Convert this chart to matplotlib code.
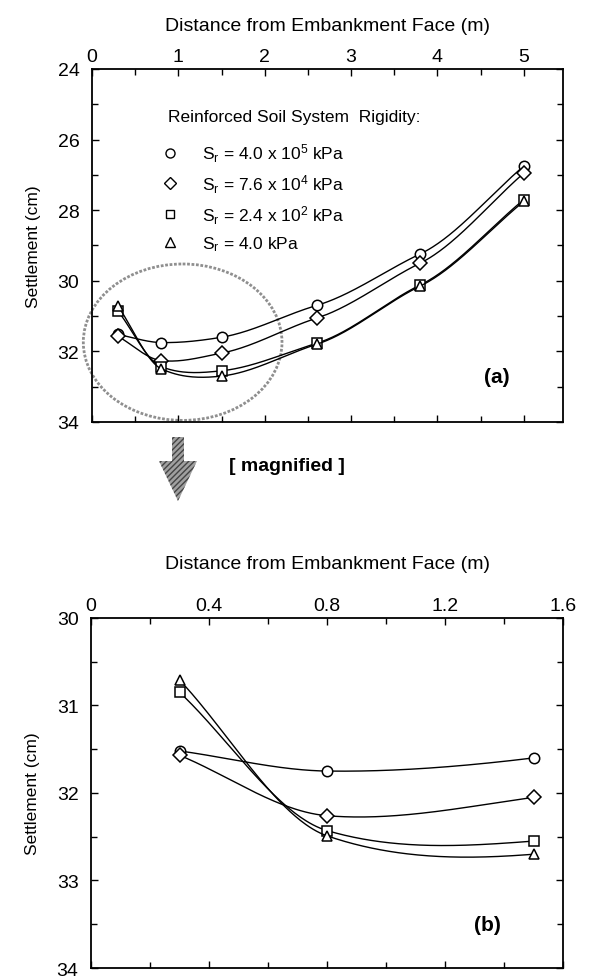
import numpy as np
import matplotlib
matplotlib.use("Agg")
import matplotlib.pyplot as plt
import matplotlib.patches as mpatches
from matplotlib.lines import Line2D
from matplotlib.ticker import MultipleLocator, FuncFormatter

plt.rcParams["font.family"] = ["Liberation Sans", "DejaVu Sans"]
plt.rcParams["mathtext.fontset"] = "custom"
plt.rcParams["mathtext.rm"] = "Liberation Sans"
plt.rcParams["mathtext.it"] = "Liberation Sans"

# === Data ===
distance = [0.3, 0.8, 1.5, 2.6, 3.8, 5.0]
settle_sr_4e5 = [31.52, 31.75, 31.60, 30.70, 29.24, 26.75]
settle_sr_7p6e4 = [31.57, 32.26, 32.05, 31.06, 29.50, 26.95]
settle_sr_2p4e2 = [30.85, 32.43, 32.55, 31.77, 30.12, 27.70]
settle_sr_4 = [30.71, 32.49, 32.70, 31.80, 30.15, 27.75]

series_labels = [r"S$_\mathregular{r}$ = 4.0 x 10$^\mathregular{5}$ kPa",
                 r"S$_\mathregular{r}$ = 7.6 x 10$^\mathregular{4}$ kPa",
                 r"S$_\mathregular{r}$ = 2.4 x 10$^\mathregular{2}$ kPa",
                 r"S$_\mathregular{r}$ = 4.0 kPa"]
series_values = [settle_sr_4e5, settle_sr_7p6e4, settle_sr_2p4e2, settle_sr_4]
markers = ["o", "D", "s", "^"]
marker_sizes = [7.5, 7, 7, 7.5]


def smooth_curve(x, y, xs, tension=0.3):
    # cardinal (Hermite) spline through the measured points, drawing only
    x = np.asarray(x, float)
    y = np.asarray(y, float)
    n = len(x)
    m = np.zeros(n)
    m[0] = (y[1] - y[0]) / (x[1] - x[0])
    m[-1] = (y[-1] - y[-2]) / (x[-1] - x[-2])
    for i in range(1, n - 1):
        m[i] = (1 - tension) * (y[i + 1] - y[i - 1]) / (x[i + 1] - x[i - 1])
    idx = np.clip(np.searchsorted(x, xs) - 1, 0, n - 2)
    h = x[idx + 1] - x[idx]
    s = (xs - x[idx]) / h
    h00 = 2 * s ** 3 - 3 * s ** 2 + 1
    h10 = s ** 3 - 2 * s ** 2 + s
    h01 = -2 * s ** 3 + 3 * s ** 2
    h11 = s ** 3 - s ** 2
    return h00 * y[idx] + h10 * h * m[idx] + h01 * y[idx + 1] + h11 * h * m[idx + 1]


def style_axes(ax, xmaj, xmin, ymaj, ymin):
    ax.xaxis.tick_top()
    ax.xaxis.set_label_position("top")
    ax.xaxis.set_major_locator(MultipleLocator(xmaj))
    ax.xaxis.set_minor_locator(MultipleLocator(xmin))
    ax.yaxis.set_major_locator(MultipleLocator(ymaj))
    ax.yaxis.set_minor_locator(MultipleLocator(ymin))
    ax.xaxis.set_major_formatter(FuncFormatter(lambda v, p: "0" if abs(v) < 1e-9 else f"{v:g}"))
    ax.tick_params(which="both", direction="in", top=True, bottom=True,
                   left=True, right=True, labelbottom=False, labeltop=True,
                   width=1.0)
    ax.tick_params(which="major", length=5, labelsize=14, pad=3)
    ax.tick_params(axis="y", which="major", pad=9)
    ax.tick_params(which="minor", length=4)
    for s in ax.spines.values():
        s.set_linewidth(1.3)


fig = plt.figure(figsize=(6.13, 9.78), dpi=100)

# === (a) full range ===
ax1 = fig.add_axes([0.150, 0.5675, 0.768, 0.361])
xs_full = np.linspace(distance[0], distance[-1], 300)
for vals, m, ms in zip(series_values, markers, marker_sizes):
    ax1.plot(xs_full, smooth_curve(distance, vals, xs_full), color="black", lw=1.0)
    ax1.plot(distance, vals, linestyle="none", marker=m, ms=ms,
             mfc="white", mec="black", mew=1.1)
ax1.set_xlim(0, 5.45)
ax1.set_ylim(34, 24)
style_axes(ax1, 1, 0.5, 2, 1)
ax1.set_xlabel("Distance from Embankment Face (m)", fontsize=14, labelpad=13)
ax1.set_ylabel("Settlement (cm)", fontsize=12.5, labelpad=12)
ax1.text(0.86, 0.13, "(a)", transform=ax1.transAxes, fontsize=15,
         fontweight="bold", ha="center", va="center")

ax1.text(0.161, 0.864, "Reinforced Soil System  Rigidity:", transform=ax1.transAxes,
         fontsize=12.5, ha="left", va="center")
handles = [Line2D([], [], linestyle="none", marker=m, ms=ms - 1, mfc="white",
                  mec="black", mew=1.0) for m, ms in zip(markers, marker_sizes)]
leg = ax1.legend(handles, series_labels, loc="upper left",
                 bbox_to_anchor=(0.148, 0.795), frameon=False,
                 fontsize=12.5, labelspacing=0.48, borderpad=0,
                 handletextpad=1.3, handlelength=1.0, borderaxespad=0)

circle = mpatches.Ellipse((1.05, 31.74), 2.3, 4.43, fill=False, edgecolor="#8f8f8f",
                          linewidth=2.0, linestyle=(0, (1, 0.6)), clip_on=False)
ax1.add_patch(circle)

# magnify arrow + note
arrow = mpatches.FancyArrow(1.78, 5.40, 0, -0.64, width=0.12, head_width=0.38,
                            head_length=0.40, length_includes_head=True,
                            transform=fig.dpi_scale_trans, facecolor="#a0a0a0",
                            edgecolor="#444444", hatch="//////", linewidth=0)
fig.add_artist(arrow)
fig.text(2.87 / 6.13, 1 - 4.67 / 9.78, "[ magnified ]", fontsize=14,
         fontweight="bold", ha="center", va="center")

# === (b) magnified ===
ax2 = fig.add_axes([0.1485, 0.0092, 0.770, 0.358])
xs_mag = np.linspace(distance[0], distance[2], 200)
for vals, m, ms in zip(series_values, markers, marker_sizes):
    ax2.plot(xs_mag, smooth_curve(distance, vals, xs_mag), color="black", lw=1.0)
    ax2.plot(distance[:3], vals[:3], linestyle="none", marker=m, ms=ms,
             mfc="white", mec="black", mew=1.1)
ax2.set_xlim(0, 1.6)
ax2.set_ylim(34, 30)
style_axes(ax2, 0.4, 0.2, 1, 0.5)
ax2.set_xlabel("Distance from Embankment Face (m)", fontsize=14, labelpad=21)
ax2.set_ylabel("Settlement (cm)", fontsize=12.5, labelpad=12)
ax2.text(0.84, 0.123, "(b)", transform=ax2.transAxes, fontsize=15,
         fontweight="bold", ha="center", va="center")

fig.savefig("out.png", dpi=100)
